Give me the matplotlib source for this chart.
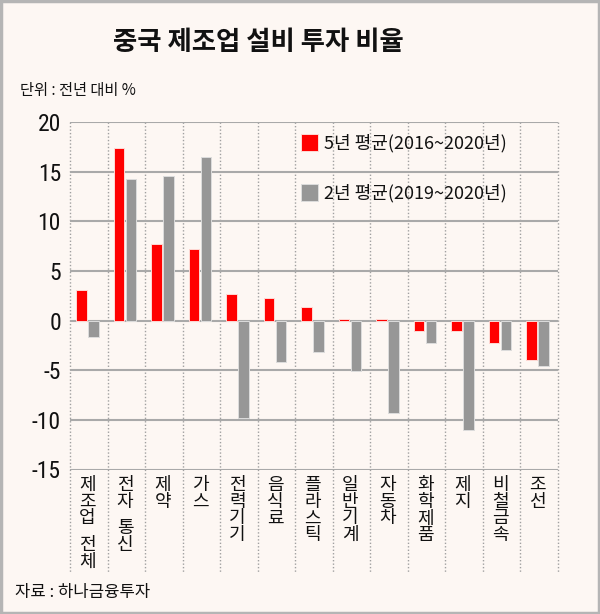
import matplotlib
matplotlib.use("Agg")
import matplotlib.pyplot as plt
import numpy as np
from matplotlib import font_manager, transforms
from matplotlib.lines import Line2D

categories = ["제조업 전체", "전자 통신", "제약", "가스", "전력기기", "음식료", "플라스틱",
              "일반기계", "자동차", "화학제품", "제지", "비철금속", "조선"]
avg5 = [3.1, 17.4, 7.7, 7.2, 2.7, 2.3, 1.4, 0.2, 0.2, -1.0, -1.1, -2.3, -4.0]
avg2 = [-1.7, 14.3, 14.6, 16.5, -9.8, -4.2, -3.2, -5.1, -9.3, -2.3, -11.0, -3.0, -4.6]
yticks = [-15, -10, -5, 0, 5, 10, 15, 20]
label5 = "5년 평균(2016~2020년)"
label2 = "2년 평균(2019~2020년)"
title = "중국 제조업 설비 투자 비율"
unit = "단위 : 전년 대비 %"
source = "자료 : 하나금융투자"

avail = {f.name for f in font_manager.fontManager.ttflist}
num_font = next((f for f in ["Liberation Sans Narrow", "Roboto Condensed", "Open Sans Condensed", "Roboto"] if f in avail), "DejaVu Sans")
KR = ["Noto Sans CJK KR", "DejaVu Sans"]
plt.rcParams['font.family'] = KR

BG = "#fdf7f3"
W, H = 600, 614
fig = plt.figure(figsize=(W / 100, H / 100), dpi=100, facecolor=BG)
ax_left, ax_right, ax_top, ax_bot = 70, 557.7, 122, 469.5
ax = fig.add_axes([ax_left / W, 1 - ax_bot / H, (ax_right - ax_left) / W, (ax_bot - ax_top) / H])
ax.set_facecolor(BG)

x = np.arange(len(categories))
ax.bar(x - 0.2, avg5, width=0.28, color="#ff0000", edgecolor="#ffd9d4", linewidth=0.7, label=label5, zorder=3)
ax.bar(x + 0.12, avg2, width=0.28, color="#979797", edgecolor="#dcdcdc", linewidth=0.7, label=label2, zorder=3)

ax.set_xlim(-0.5, len(categories) - 0.5)
ax.set_ylim(-15, 20)
ax.set_yticks(yticks)
ax.set_yticklabels([str(v) for v in yticks], fontfamily=num_font, fontsize=17)
ax.tick_params(axis='y', length=0, pad=6.5, labelcolor="#111111")
ax.set_xticks([])
for s in ax.spines.values():
    s.set_visible(False)

for v in yticks:
    ax.axhline(v, color="#a9a9a9", lw=1.5, zorder=1)

# vertical dotted separators extending into label area
bottom_frac = (H - 573 - (H - ax_bot)) / (ax_bot - ax_top)
trans = transforms.blended_transform_factory(ax.transData, ax.transAxes)
for b in np.arange(-0.5, len(categories), 1.0):
    ln = Line2D([b, b], [1, bottom_frac], transform=trans, color="#a0a0a0", lw=1,
                linestyle=(0, (1, 1.5)), clip_on=False, zorder=0)
    ax.add_line(ln)

# vertical stacked category labels
ftrans = transforms.blended_transform_factory(ax.transData, fig.transFigure)
for i, name in enumerate(categories):
    ypix = 476
    for ch in name:
        if ch == " ":
            ypix += 10
            continue
        ax.text(i - 0.03, 1 - ypix / H, ch, transform=ftrans, ha="center", va="top",
                fontsize=13, fontweight="medium", color="#111111")
        ypix += 16.7

leg = ax.legend(loc="upper left", bbox_to_anchor=(0.474, 0.965), frameon=False,
                fontsize=13, handlelength=0.95, handleheight=1.05, handletextpad=0.3,
                labelspacing=1.75, borderpad=0, borderaxespad=0)
for t in leg.get_texts():
    t.set_color("#111111")

fig.text(0.43, 1 - 43 / H, title, ha="center", va="center", fontsize=19, fontweight="bold", color="#111111")
fig.text(20 / W, 1 - 91 / H, unit, ha="left", va="center", fontsize=11, color="#111111")
fig.text(15 / W, 1 - 592 / H, source, ha="left", va="center", fontsize=12, color="#111111")

border = plt.Rectangle((0.002, 0.002), 0.996, 0.996, transform=fig.transFigure, fill=False,
                       edgecolor="#b5b5b5", lw=2.5)
fig.patches.append(border)

fig.savefig("out.png", dpi=100, facecolor=BG)
